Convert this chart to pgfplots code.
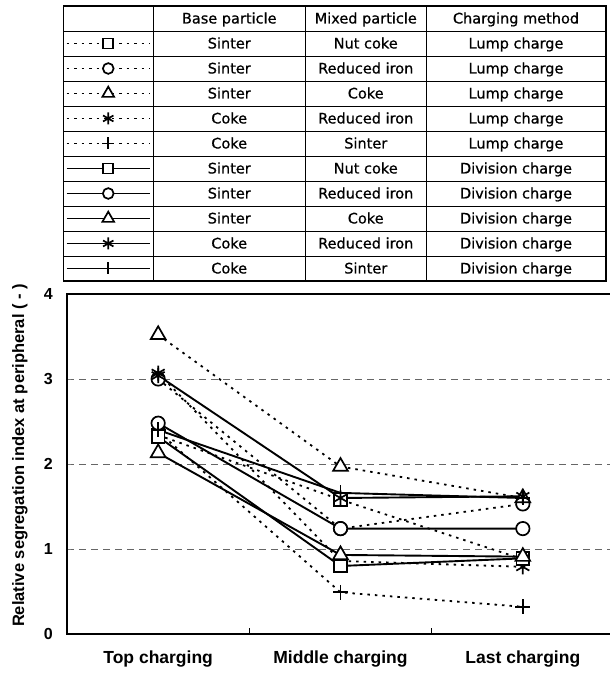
\documentclass[border=0pt]{standalone}
\usepackage{fontspec}
\setmainfont{DejaVu Sans}
\newfontfamily\lsans{Liberation Sans}
\newfontfamily\tabfont[FakeBold=0.6]{DejaVu Sans}
\usepackage{pgfplots}
\pgfplotsset{compat=1.18}

% one table row of the legend: base, mixed, method
\newcommand{\tr}[3]{\makebox[152.5pt]{#1}\makebox[120.5pt]{#2}\makebox[180pt]{#3}}

\pgfplotsset{
  lump/.style={black, line width=1.8pt, dash pattern=on 2.5pt off 5pt,
    mark options={solid, fill=white, line width=1.7pt}},
  div/.style={black, line width=1.9pt, solid,
    mark options={solid, fill=white, line width=1.7pt}},
}

\begin{document}
\begin{tikzpicture}[x=1pt,y=1pt]
\useasboundingbox (0,0) rectangle (610,680);
\begin{axis}[
  scale only axis, width=547pt, height=340pt,
  at={(67pt,46pt)}, anchor=south west,
  xmin=-0.5, xmax=2.5, ymin=0, ymax=4,
  xtick={0,1,2},
  xticklabels={Top charging, Middle charging, Last charging},
  minor xtick={0.5,1.5},
  major x tick style={draw=none},
  minor x tick style={black, line width=1pt},
  minor tick length=6pt,
  ytick={0,1,2,3,4},
  major tick length=4pt,
  tick pos=left, tick align=inside,
  axis line style={line width=1.6pt},
  ymajorgrids,
  major grid style={dash pattern=on 7pt off 5pt, line width=0.9pt, black!60},
  /pgf/number format/assume math mode=true,
  xticklabel style={font=\lsans\bfseries\fontsize{17.5}{17.5}\selectfont, inner sep=0pt, yshift=-17pt},
  yticklabel style={font=\lsans\bfseries\fontsize{16}{16}\selectfont, inner sep=0pt, xshift=-14pt},
  ylabel={Relative segregation index at peripheral ( - )},
  ylabel style={at={(axis description cs:-0.086,0.525)}, anchor=center,
    font=\lsans\bfseries\fontsize{16.5}{16.5}\selectfont},
  legend style={at={(-0.0064,1.8471)}, anchor=north west,
    draw=black, line width=1.1pt, fill=white,
    inner sep=0pt, outer sep=0pt,
    /tikz/column sep=0pt, /tikz/row sep=0pt,
    cells={anchor=center},
    nodes={inner sep=0pt, outer sep=0pt, minimum height=25pt,
      text height=11pt, text depth=1pt, font=\tabfont\fontsize{14.5}{14.5}\selectfont}},
  legend image code/.code={%
    \path[draw=none, fill=none] (0pt,-3pt) rectangle (89.5pt,3pt);
    \draw[mark repeat=2,mark phase=2,#1] plot coordinates {(3pt,0pt) (44.75pt,0pt) (86.5pt,0pt)};
  },
  legend image post style={/tikz/every mark/.append style={scale=0.8}},
]
\addlegendimage{empty legend}
\addlegendentry{\tr{Base particle}{Mixed particle}{Charging method}}

% lump charge (dotted)
\addplot[lump, mark=square*, mark size=6.3pt] coordinates {(0,2.34) (1,1.58) (2,0.88)};
\addlegendentry{\tr{Sinter}{Nut coke}{Lump charge}}
\addplot[lump, mark=*, mark size=6.7pt] coordinates {(0,3.00) (1,1.24) (2,1.53)};
\addlegendentry{\tr{Sinter}{Reduced iron}{Lump charge}}
\addplot[lump, mark=triangle*, mark size=8.5pt] coordinates {(0,3.52) (1,1.97) (2,1.60)};
\addlegendentry{\tr{Sinter}{Coke}{Lump charge}}
\addplot[lump, mark=asterisk, mark size=7.5pt] coordinates {(0,3.07) (1,0.86) (2,0.79)};
\addlegendentry{\tr{Coke}{Reduced iron}{Lump charge}}
\addplot[lump, mark=+, mark size=7.5pt] coordinates {(0,2.38) (1,0.49) (2,0.32)};
\addlegendentry{\tr{Coke}{Sinter}{Lump charge}}

% division charge (solid)
\addplot[div, mark=square*, mark size=6.3pt] coordinates {(0,2.32) (1,0.80) (2,0.89)};
\addlegendentry{\tr{Sinter}{Nut coke}{Division charge}}
\addplot[div, mark=*, mark size=6.7pt] coordinates {(0,2.48) (1,1.24) (2,1.24)};
\addlegendentry{\tr{Sinter}{Reduced iron}{Division charge}}
\addplot[div, mark=triangle*, mark size=8.5pt] coordinates {(0,2.13) (1,0.93) (2,0.91)};
\addlegendentry{\tr{Sinter}{Coke}{Division charge}}
\addplot[div, mark=asterisk, mark size=7.5pt] coordinates {(0,3.04) (1,1.60) (2,1.62)};
\addlegendentry{\tr{Coke}{Reduced iron}{Division charge}}
\addplot[div, mark=+, mark size=7.5pt] coordinates {(0,2.40) (1,1.66) (2,1.60)};
\addlegendentry{\tr{Coke}{Sinter}{Division charge}}
\end{axis}

% grid of the legend table
\foreach \xx in {153,305.5,426} \draw[line width=0.9pt] (\xx,674) -- (\xx,399);
\foreach \k in {1,...,10} \draw[line width=0.9pt] (63.5,674-25*\k) -- (606,674-25*\k);
\end{tikzpicture}
\end{document}
